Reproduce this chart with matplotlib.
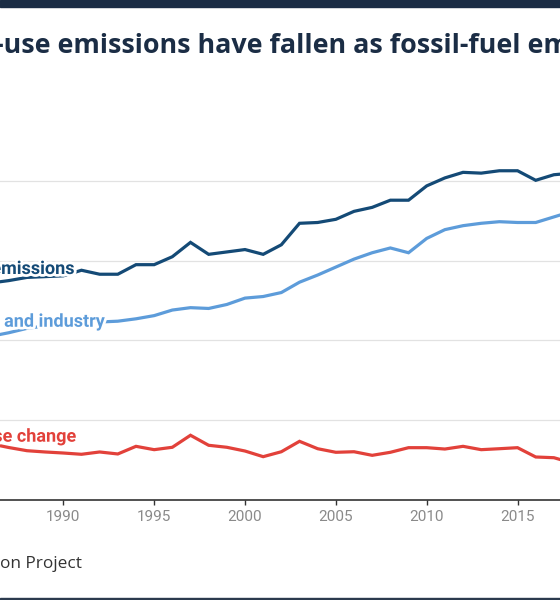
import matplotlib
matplotlib.use('Agg')
import matplotlib.pyplot as plt
import matplotlib.patheffects as pe
from matplotlib.patches import Rectangle

# Global CO2 emissions, billion tonnes
years = list(range(1986, 2019))
total = [27.2, 27.5, 27.9, 28.0, 28.1, 28.8, 28.3, 28.3, 29.5, 29.5, 30.5,
         32.3, 30.8, 31.1, 31.4, 30.8, 32.0, 34.7, 34.8, 35.2, 36.2, 36.7,
         37.6, 37.6, 39.4, 40.4, 41.1, 41.0, 41.3, 41.3, 40.1, 40.8, 41.0]
fossil = [20.5, 20.95, 21.5, 21.8, 22.0, 22.1, 22.3, 22.4, 22.7, 23.1, 23.8,
          24.1, 24.0, 24.5, 25.3, 25.5, 26.0, 27.3, 28.2, 29.2, 30.2, 31.0,
          31.6, 31.0, 32.8, 33.9, 34.4, 34.7, 34.9, 34.8, 34.8, 35.5, 36.2]
landuse = [7.0, 6.53, 6.13, 5.97, 5.84, 5.68, 5.97, 5.72, 6.68, 6.26, 6.56,
           8.07, 6.81, 6.56, 6.09, 5.38, 6.0, 7.31, 6.38, 5.93, 6.0, 5.55,
           5.93, 6.51, 6.51, 6.34, 6.68, 6.26, 6.38, 6.51, 5.34, 5.25, 4.6]

TITLE = 'Land-use emissions have fallen as fossil-fuel emissions have risen'
SOURCE = 'Source: Global Carbon Project'
NAVY = '#1b2d45'
C_TOTAL, C_FOSSIL, C_LAND = '#144a76', '#5d9cda', '#e2413a'

W, H = 560, 600
fig = plt.figure(figsize=(W / 100, H / 100), dpi=100)

# the view is a crop of a wider chart: axes run past both edges
px_per_year, px_per_unit = 18.17, 7.96
x0_px, y0_px, top_px = 63.3, 499.5, 150
ax = fig.add_axes([0, (H - y0_px) / H, 1, (y0_px - top_px) / H])
ax.set_xlim(1990 - x0_px / px_per_year, 1990 + (W - x0_px) / px_per_year)
ax.set_ylim(0, (y0_px - top_px) / px_per_unit)

ax.plot(years, landuse, color=C_LAND, lw=2.3, solid_joinstyle='miter', zorder=3)
ax.plot(years, fossil, color=C_FOSSIL, lw=2.3, solid_joinstyle='miter', zorder=3)
ax.plot(years, total, color=C_TOTAL, lw=2.3, solid_joinstyle='miter', zorder=3)

halo = [pe.withStroke(linewidth=4, foreground='white')]
lab = dict(ha='right', va='baseline', fontsize=13, fontweight='bold',
           family='Roboto', path_effects=halo, zorder=5)
ax.text(1990.64, 28.33, 'Total emissions', color=C_TOTAL, **lab)
ax.text(1992.29, 21.7, 'Fossil fuels and industry', color=C_FOSSIL, **lab)
ax.text(1990.70, 7.26, 'Land-use change', color=C_LAND, **lab)

ax.set_yticks([10, 20, 30, 40])
ax.yaxis.grid(True, color='#e2e2e2', lw=0.9)
ax.tick_params(axis='y', length=0, labelleft=False)
ax.set_xticks(range(1990, 2016, 5))
ax.tick_params(axis='x', length=3.6, width=1, color='#333333', pad=4,
               labelsize=11, labelcolor='#8a8a8a')
for t in ax.get_xticklabels():
    t.set_family('Roboto')
for s in ['left', 'right', 'top']:
    ax.spines[s].set_visible(False)
ax.spines['bottom'].set_color('#333333')
ax.spines['bottom'].set_linewidth(1.2)
ax.set_axisbelow(True)

# title, also cut at both sides
tkw = dict(fontweight='bold', family='Open Sans', color=NAVY)
r = fig.canvas.get_renderer()
probe = fig.text(0, 0, 'use emissions have fallen as fossil-fuel e', fontsize=20, **tkw)
size = 20 * 541 / probe.get_window_extent(r).width
probe.remove()
pre = fig.text(0, 0, 'Land-', fontsize=size, **tkw)
wpre = pre.get_window_extent(r).width
pre.remove()
fig.text((4 - wpre) / W, (H - 53.3) / H, TITLE, fontsize=size, va='baseline', **tkw)

fig.text(82 / W, (H - 568.3) / H, SOURCE, ha='right', va='baseline',
         fontsize=12.4, family='Open Sans', color='#333333')

fig.patches.append(Rectangle((0, 1 - 7 / H), 1, 7 / H, transform=fig.transFigure,
                             color=NAVY, zorder=10))
fig.patches.append(Rectangle((0, 0), 1, 2.5 / H, transform=fig.transFigure,
                             color='#2b3a4e', zorder=10))

fig.savefig('out.png', dpi=100)
